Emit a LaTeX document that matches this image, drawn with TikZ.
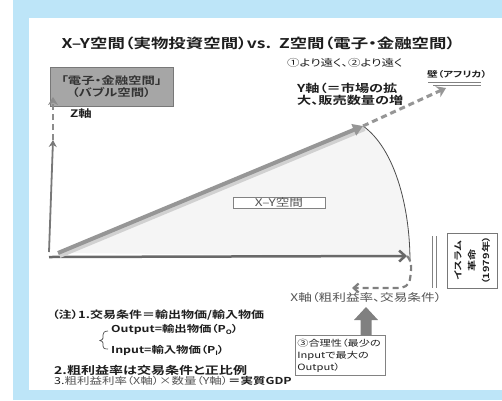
\documentclass[tikz,border=0pt]{standalone}
\usepackage{fontspec}
\setmainfont{Noto Sans CJK JP}[FakeStretch=1.3, RawFeature=+palt, BoldFont={Noto Sans CJK JP Bold}, BoldFeatures={FakeStretch=1.3,RawFeature=+palt}]
\usetikzlibrary{arrows.meta}
\definecolor{bgblue}{RGB}{189,229,248}
\definecolor{boxgray}{RGB}{166,166,166}
\definecolor{boxline}{RGB}{120,120,120}
\definecolor{ygray}{RGB}{150,150,150}
\definecolor{xgray}{RGB}{105,105,105}
\definecolor{zgray}{RGB}{120,120,120}
\definecolor{secfill}{RGB}{245,245,245}
\definecolor{txtdark}{RGB}{30,30,30}
\definecolor{txtgray}{RGB}{85,85,85}
\definecolor{linegray}{RGB}{130,130,130}
\tikzset{
  lbl/.style={inner sep=0pt, text=txtdark},
  boldlbl/.style={lbl, font=\bfseries\fontsize{10}{12}\selectfont},
  framebox/.style={draw=linegray, fill=white, line width=0.8pt},
  dashax/.style={dash pattern=on 6pt off 4pt},
}
\begin{document}
\begin{tikzpicture}[x=1pt,y=-1pt]
\useasboundingbox (0,0) rectangle (502,400);
\fill[bgblue] (13,0) rectangle (502,400);
\fill[white] (29,18) rectangle (502,390);

% coordinates
\coordinate (O) at (58,253);
\coordinate (Ytip) at (363,126);
\coordinate (Wall) at (446,88);
\coordinate (Xs) at (49,257);
\coordinate (Xe) at (407,256);
\coordinate (Xd) at (352,288);
\coordinate (Zs) at (49,252);
\coordinate (Zm) at (53,140);
\coordinate (Zt) at (53,97);
\coordinate (Arcend) at (410,262);

% sector
\fill[secfill] (O) -- (Ytip) .. controls (394,148) and (410,205) .. (Arcend) -- (410,256) -- cycle;
\draw[black!70, line width=0.8pt] (Ytip) .. controls (394,148) and (410,205) .. (Arcend);

% title
\node[lbl, font=\bfseries\fontsize{13.4}{16}\selectfont] (title) at (258.5,43) {X–Y空間（実物投資空間）vs.\ \ Z空間（電子・金融空間）};
\node[lbl, anchor=west, font=\fontsize{9.6}{11}\selectfont] (far) at (287,63) {①より遠く、②より遠く};

% bubble box
\node[draw=boxline, fill=boxgray, line width=0.8pt, minimum width=123pt, minimum height=39pt, align=center, inner sep=0pt, text=black!80, font=\bfseries\fontsize{10.3}{11.5}\selectfont] (bubble) at (111.5,86.5) {「電子・金融空間」\\（バブル空間）};
\node[boldlbl, anchor=west, font=\bfseries\fontsize{10.3}{12}\selectfont] (zlab) at (70,114) {Z軸};

% Z axis
\draw[zgray, line width=1.8pt, -{Stealth[length=7pt,width=8pt]}] (Zs) -- (Zm);
\draw[zgray!85, line width=2.5pt, dashax, -{Stealth[length=8pt,width=10pt]}] (Zm) -- (Zt);

% X axis
\draw[xgray, line width=2.5pt, -{Straight Barb[length=6pt,width=11pt]}] (Xs) -- (Xe);
\draw[xgray!85, line width=2.2pt, dashax, -{Straight Barb[length=5pt,width=9pt]}] (Xe) .. controls (413,262) and (411,272) .. (410,279) .. controls (409,286) and (404,288) .. (397,288) -- (Xd);

% Y axis with shadow
\draw[black!18, line width=5pt] ([shift={(1.5,2.5)}]O) -- ([shift={(1.5,2.5)}]Ytip);
\draw[ygray, line width=4pt, -{Triangle[length=10pt,width=12pt]}] (O) -- (Ytip);
\draw[ygray, line width=3pt, dashax, -{Stealth[length=9pt,width=12pt]}] (Ytip) -- (Wall);

% labels
\node[framebox, line width=0.6pt, minimum width=92pt, minimum height=11pt, inner sep=0pt, text=txtgray, font=\fontsize{10.5}{10}\selectfont] (xy) at (279,202.5) {X–Y空間};
\node[boldlbl, anchor=west, align=left, font=\bfseries\fontsize{10.9}{12}\selectfont] (ylab) at (297,94) {Y軸（＝市場の拡\\大、販売数量の増};
\node[boldlbl, anchor=west, font=\bfseries\fontsize{8.2}{10}\selectfont] (wall) at (427,74) {壁（アフリカ）};
\draw[linegray, line width=1pt] (428,82) -- (481,82);
\draw[linegray, line width=1pt] (433,85.5) -- (481,85.5);

% Islamic revolution
\draw[linegray, line width=1pt] (432,236) -- (432,288);
\draw[linegray, line width=1pt] (436,236) -- (436,288);
\node[draw=boxline, fill=white, line width=0.8pt, rotate=90, minimum width=55pt, minimum height=50pt, inner sep=0pt, align=center, text=txtdark, font=\bfseries\fontsize{8.5}{14}\selectfont] (rev) at (472,260.5) {イスラム\\革命\\（1979年）};

% X label and rationality
\node[lbl, text=txtgray, font=\fontsize{10.5}{11}\selectfont] (xlab) at (366,297) {X軸（粗利益率、交易条件）};
\fill[black!50] (366,307) -- (378,320) -- (371.5,320) -- (371.5,335) -- (360.5,335) -- (360.5,320) -- (354,320) -- cycle;
\node[draw=linegray, fill=white, line width=0.7pt, anchor=north west, minimum width=90pt, minimum height=40pt, text width=86pt, inner sep=2pt, align=left, text=txtdark, font=\fontsize{8.6}{12}\selectfont] (ratio) at (295,335) {③合理性（最少の\\Inputで最大の\\Output）};

% notes
\node[boldlbl, anchor=west] (n1) at (52,315) {（注）1.交易条件＝輸出物価/輸入物価};
\node[boldlbl, anchor=west, font=\bfseries\fontsize{9.5}{12}\selectfont] (n1a) at (111,329) {Output=輸出物価（P\raisebox{-2pt}{\fontsize{6}{6}\selectfont O}）};
\node[boldlbl, anchor=west, font=\bfseries\fontsize{9.5}{12}\selectfont] (n1b) at (111,350) {Input=輸入物価（P\raisebox{-2pt}{\fontsize{6}{6}\selectfont I}）};
\draw[black!70, line width=0.7pt] (108,331) .. controls (104,331) and (103,333) .. (103,335) -- (103,338) .. controls (103,339) and (102,340) .. (100,340.5) .. controls (102,341) and (103,342) .. (103,343) -- (103,346) .. controls (103,348) and (104,349) .. (108,349);
\node[boldlbl, anchor=west, font=\bfseries\fontsize{10.8}{12}\selectfont] (n2) at (54,370) {2.粗利益率は交易条件と正比例};
\node[lbl, anchor=west, font=\fontsize{9.6}{11}\selectfont] (n3) at (54,381) {3.{\color{txtgray}粗利益利率（X軸）×数量（Y軸）}\textbf{＝実質GDP}};
\end{tikzpicture}
\end{document}
